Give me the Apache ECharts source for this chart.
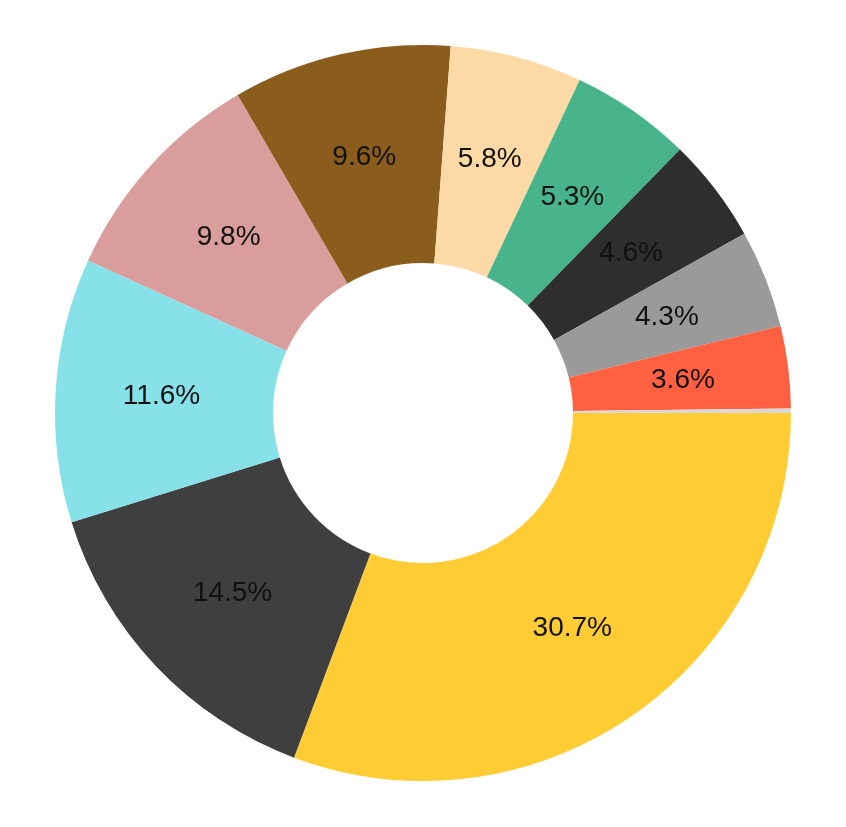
<!DOCTYPE html>
<html>
<head>
<meta charset="utf-8">
<script src="https://cdn.jsdelivr.net/npm/echarts@6/dist/echarts.min.js"></script>
<style>html,body{margin:0;padding:0;background:#fff;}#chart{width:846px;height:827px;}</style>
</head>
<body>
<div id="chart"></div>
<script>
const categories = ['A','B','C','D','E','F','G','H','I','J','K'];
const values = [30.7, 14.5, 11.6, 9.8, 9.6, 5.8, 5.3, 4.6, 4.3, 3.6, 0.2];
const colors = ['#FFCC33','#3F3F3F','#87E1E8','#D99E9B','#8B5D1D','#FDDAA5','#47B48B','#2E2E2E','#9A9A9A','#FF6042','#D9D9D9'];
const showLabel = [true,true,true,true,true,true,true,true,true,true,false];

const chart = echarts.init(document.getElementById('chart'), null, {renderer:'canvas'});
chart.setOption({
  animation: false,
  series: [{
    type: 'pie',
    center: [423, 413],
    radius: [150, 368],
    startAngle: 0,
    clockwise: true,
    avoidLabelOverlap: false,
    percentPrecision: 1,
    label: {
      position: 'inside',
      formatter: '{d}%',
      fontFamily: 'Liberation Sans, Arial, sans-serif',
      fontSize: 28,
      color: '#111'
    },
    labelLine: {show: false},
    itemStyle: {borderWidth: 0},
    emphasis: {disabled: true},
    data: categories.map((c, i) => ({
      name: c,
      value: values[i],
      itemStyle: {color: colors[i]},
      label: {show: showLabel[i]}
    }))
  }]
});
</script>
</body>
</html>
